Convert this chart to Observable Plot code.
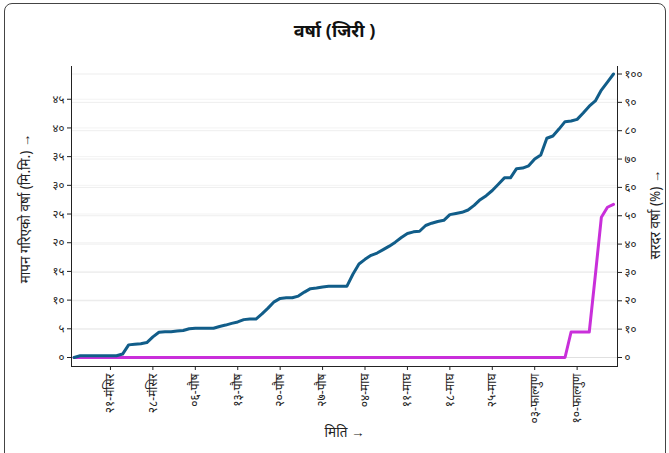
<!DOCTYPE html>
<html><head><meta charset="utf-8">
<script src="https://cdn.jsdelivr.net/npm/d3@7"></script>
<script src="https://cdn.jsdelivr.net/npm/@observablehq/plot@0.6"></script>
<style>
body{margin:0;width:669px;height:453px;overflow:hidden;background:#fff;font-family:"Noto Sans",sans-serif;}
#frame{position:absolute;left:4px;top:3px;width:660px;height:480px;border:1px solid #444;border-radius:8px;}
#title{position:absolute;left:0;top:18px;width:669px;text-align:center;font-weight:bold;font-size:18px;color:#111;}
#chart{position:absolute;left:0;top:58px;}
</style></head><body>
<div id="frame"></div>
<div id="title">वर्षा (जिरी )</div>
<div id="chart"></div>
<script>
// daily index 0 = 15-मंसिर ... 89 = 16-फाल्गुण
const rainfall = [
 0, 0.3, 0.3, 0.3, 0.3, 0.3, 0.3, 0.3, 0.6, 2.2,
 2.3, 2.4, 2.6, 3.6, 4.4, 4.5, 4.5, 4.6, 4.7, 5.0,
 5.1, 5.1, 5.1, 5.1, 5.4, 5.65, 5.95, 6.2, 6.6, 6.7,
 6.7, 7.6, 8.6, 9.7, 10.3, 10.4, 10.4, 10.7, 11.4, 12.0,
 12.1, 12.3, 12.4, 12.4, 12.4, 12.4, 14.5, 16.3, 17.1, 17.8,
 18.2, 18.8, 19.4, 20.1, 20.9, 21.6, 21.9, 22.0, 23.0, 23.4,
 23.7, 23.9, 24.9, 25.1, 25.3, 25.7, 26.5, 27.5, 28.2, 29.1,
 30.2, 31.3, 31.3, 32.9, 33.0, 33.4, 34.6, 35.3, 38.2, 38.6,
 39.8, 41.1, 41.2, 41.5, 42.6, 43.8, 44.7, 46.6, 48.0, 49.4
];
const averagePct = [
 0,0,0,0,0,0,0,0,0,0,
 0,0,0,0,0,0,0,0,0,0,
 0,0,0,0,0,0,0,0,0,0,
 0,0,0,0,0,0,0,0,0,0,
 0,0,0,0,0,0,0,0,0,0,
 0,0,0,0,0,0,0,0,0,0,
 0,0,0,0,0,0,0,0,0,0,
 0,0,0,0,0,0,0,0,0,0,
 0,0,9,9,9,9,29,49.5,53,54
];
const tickDays = [6,13,20,27,34,41,48,55,62,69,76,83];
const tickLabels = ["२१-मंसिर","२८-मंसिर","०६-पौष","१३-पौष","२०-पौष","२७-पौष","०४-माघ","११-माघ","१८-माघ","२५-माघ","०३-फाल्गुण","१०-फाल्गुण"];
const leftTicks = [0,5,10,15,20,25,30,35,40,45];
const rightTicks = [0,10,20,30,40,50,60,70,80,90,100];

const digits = "०१२३४५६७८९";
const deva = v => String(v).replace(/[0-9]/g, c => digits[+c]);
const total = rainfall[rainfall.length - 1];
const toPct = v => v * 100 / total;

const blue = rainfall.map((v, i) => ({i, pct: toPct(v)}));
const purple = averagePct.map((v, i) => ({i, pct: v}));

const chart = Plot.plot({
  width: 669,
  height: 395,
  marginLeft: 71,
  marginRight: 52,
  marginTop: 8,
  marginBottom: 87,
  style: {fontFamily: "'Noto Sans', sans-serif", fontSize: "11px", color: "#222", background: "transparent"},
  x: {domain: [0, rainfall.length - 1], range: [73.6, 613]},
  y: {domain: [0, 100], range: [299, 15.5]},
  marks: [
    Plot.gridY(leftTicks.map(toPct), {stroke: "#000", strokeOpacity: 0.05}),
    Plot.gridY(rightTicks, {stroke: "#000", strokeOpacity: 0.07}),
    Plot.frame({anchor: "left", stroke: "#222"}),
    Plot.frame({anchor: "right", stroke: "#222"}),
    Plot.frame({anchor: "bottom", stroke: "#222"}),
    Plot.axisY(leftTicks.map(toPct), {anchor: "left", tickSize: 4, tickPadding: 3, fontSize: 11.5,
      tickFormat: d => deva(Math.round(d * total / 100)), label: null}),
    Plot.axisY(rightTicks, {anchor: "right", tickSize: 4, tickPadding: 3, fontSize: 11.5,
      tickFormat: deva, label: null}),
    Plot.axisX(tickDays, {tickRotate: -90, tickSize: 4, tickPadding: 3, fontSize: 12,
      tickFormat: d => tickLabels[tickDays.indexOf(d)], label: null}),
    Plot.line(purple, {x: "i", y: "pct", stroke: "#c92fda", strokeWidth: 3}),
    Plot.line(blue, {x: "i", y: "pct", stroke: "#115d89", strokeWidth: 3}),
    Plot.text(["मापन गरिएको वर्षा (मि.मि.) →"], {frameAnchor: "left", textAnchor: "middle", rotate: -90, dx: -46, dy: -8, fontSize: 13.5, fill: "#222"}),
    Plot.text(["सरदर वर्षा (%) →"], {frameAnchor: "right", textAnchor: "middle", rotate: -90, dx: 38, dy: -2, fontSize: 13.5, fill: "#222"}),
    Plot.text(["मिति →"], {frameAnchor: "bottom", dy: 70, fontSize: 13.5, fill: "#222"})
  ]
});
document.getElementById("chart").appendChild(chart);
</script>
</body></html>
